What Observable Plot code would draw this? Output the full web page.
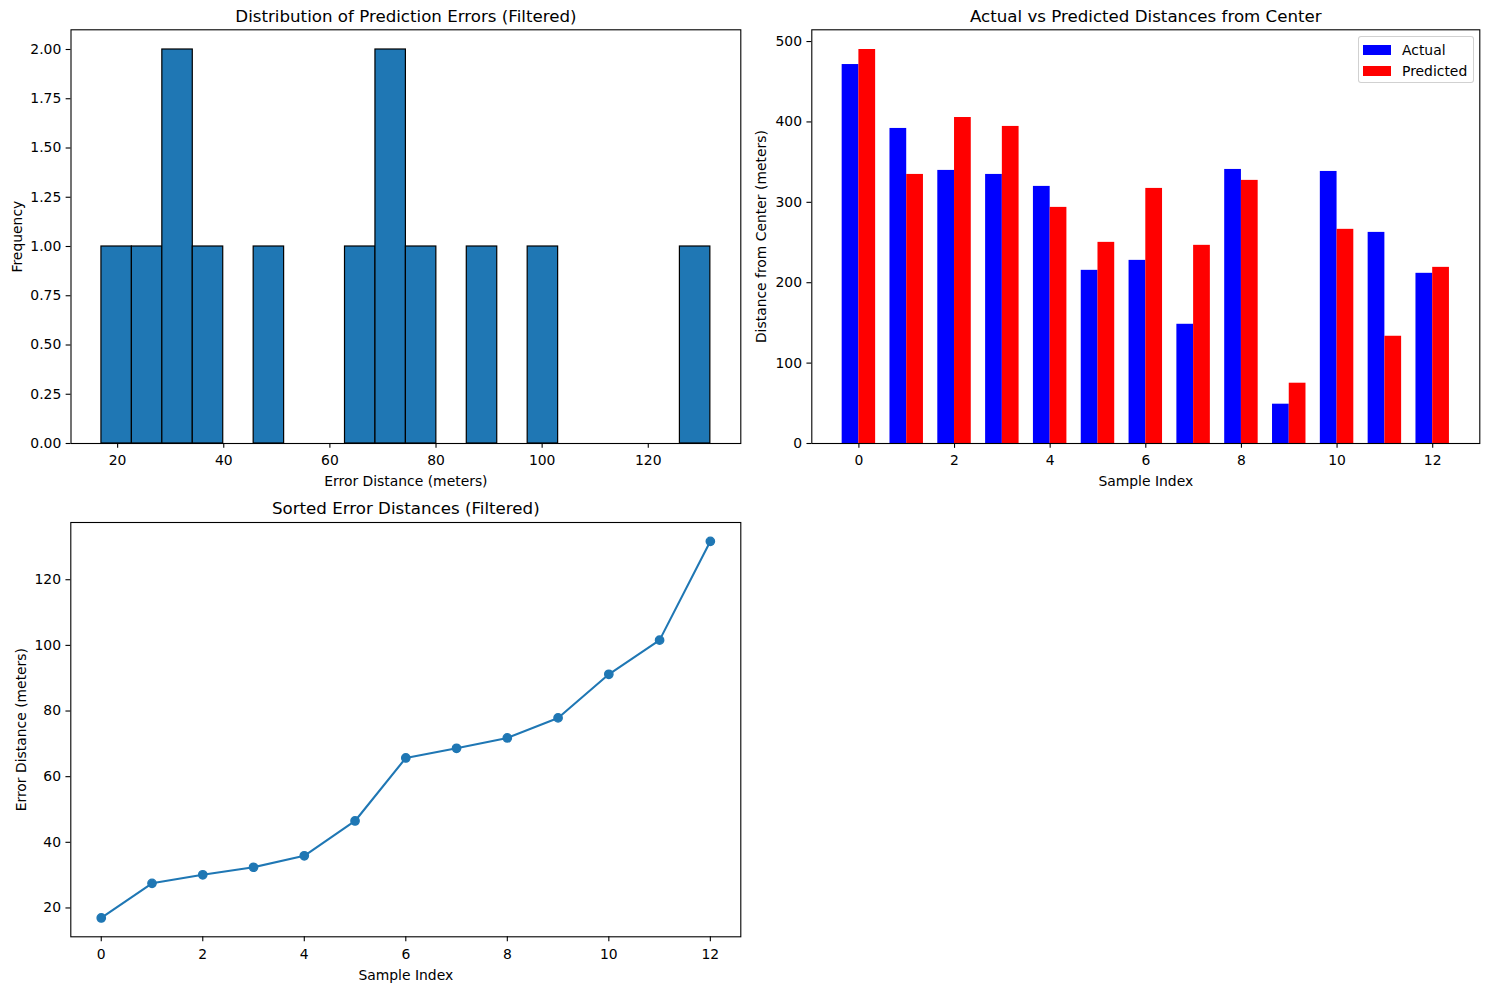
<!DOCTYPE html>
<html>
<head>
<meta charset="utf-8">
<script src="https://cdn.jsdelivr.net/npm/d3@7"></script>
<script src="https://cdn.jsdelivr.net/npm/@observablehq/plot@0.6"></script>
<style>
  body { margin: 0; background: #ffffff; }
  #fig { position: relative; width: 1489px; height: 989px; background: #ffffff; font-family: "DejaVu Sans", sans-serif; }
  #fig svg { position: absolute; }
  .legend { position: absolute; box-sizing: border-box; border: 1px solid rgba(204,204,204,0.9); border-radius: 3px; background: rgba(255,255,255,0.8); }
  .legend .row { position: absolute; left: 0; height: 14px; display: flex; align-items: center; font-size: 13.9px; color: #000; }
  .legend .sw { width: 28px; height: 10px; margin-left: 4px; margin-right: 11px; }
</style>
</head>
<body>
<div id="fig"></div>
<script>
// Error distances (meters), sorted ascending; also the sample for the histogram
const errorDistances = [16.95, 27.5, 30.1, 32.4, 35.9, 46.5, 65.7, 68.65, 71.8, 77.9, 91.2, 101.6, 131.7];

// Distances from center (meters) per sample
const actualDistances    = [471.4, 391.9, 339.7, 334.7, 319.8, 215.4, 227.8, 148.3, 340.9, 48.9, 338.4, 262.6, 211.7];
const predictedDistances = [490.1, 334.7, 405.5, 394.4, 293.7, 250.2, 317.3, 246.5, 327.3, 75.0, 266.4, 133.4, 219.1];

const seriesNames  = ["Actual", "Predicted"];
const seriesColors = ["blue", "red"];

// Tick values
const histXTicks     = [20, 40, 60, 80, 100, 120];
const histYTicks     = [0, 0.25, 0.5, 0.75, 1, 1.25, 1.5, 1.75, 2];
const sampleTicks    = [0, 2, 4, 6, 8, 10, 12];
const distanceTicks  = [0, 100, 200, 300, 400, 500];
const errorTicks     = [20, 40, 60, 80, 100, 120];

const binCount = 20;
const barWidth = 0.35;
const tabBlue = "#1f77b4";

const fig = document.getElementById("fig");
const FONT = "DejaVu Sans";
const TICK = 4.86;

// pad a [lo, hi] extent by 5% on both sides
const pad = ([lo, hi], f = 0.05) => [lo - (hi - lo) * f, hi + (hi - lo) * f];

function panel({left, top, width, height, mt, mr, mb, ml, x, y, xTicks, yTicks, yFormat, title, xLabel, yLabel, yLabelDx, marks}) {
  const svg = Plot.plot({
    width, height,
    marginTop: mt, marginRight: mr, marginBottom: mb, marginLeft: ml,
    x, y,
    color: {domain: seriesNames, range: seriesColors},
    style: {fontFamily: FONT, fontSize: "13.9px", background: "transparent", overflow: "visible", color: "#000"},
    marks: [
      ...marks,
      Plot.axisX({ticks: xTicks, tickSize: TICK, tickPadding: 7, label: null, fontSize: 13.9, strokeWidth: 1.1}),
      Plot.axisY({ticks: yTicks, tickSize: TICK, tickPadding: 4.9, label: null, fontSize: 13.9, strokeWidth: 1.1, tickFormat: yFormat}),
      Plot.frame({stroke: "#000", strokeWidth: 1.1}),
      Plot.text([title], {text: d => d, frameAnchor: "top", dy: -8.3, lineAnchor: "bottom", textAnchor: "middle", fontSize: 16.67, fill: "#000"}),
      Plot.text([xLabel], {text: d => d, frameAnchor: "bottom", dy: 33, lineAnchor: "top", textAnchor: "middle", fontSize: 13.9, fill: "#000"}),
      Plot.text([yLabel], {text: d => d, frameAnchor: "left", dx: yLabelDx, rotate: -90, textAnchor: "middle", lineAnchor: "middle", fontSize: 13.9, fill: "#000"})
    ]
  });
  svg.style.left = left + "px";
  svg.style.top = top + "px";
  fig.appendChild(svg);
  return svg;
}

// ---- Histogram of error distances (equal-width bins over the data range)
const errExtent = d3.extent(errorDistances);
const binStep = (errExtent[1] - errExtent[0]) / binCount;
const bins = d3.bin()
  .domain(errExtent)
  .thresholds(d3.range(1, binCount).map(i => errExtent[0] + i * binStep))(errorDistances)
  .filter(b => b.length > 0);
const maxCount = d3.max(bins, b => b.length);

panel({
  left: 0, top: 0, width: 750, height: 495,
  mt: 29.3, mr: 9.7, mb: 52, ml: 70.5,
  x: {domain: pad(errExtent)},
  y: {domain: [0, maxCount * 1.05]},
  xTicks: histXTicks, yTicks: histYTicks, yFormat: d3.format(".2f"),
  title: "Distribution of Prediction Errors (Filtered)",
  xLabel: "Error Distance (meters)",
  yLabel: "Frequency", yLabelDx: -53.5,
  marks: [
    Plot.rectY(bins, {x1: "x0", x2: "x1", y: b => b.length, fill: tabBlue, stroke: "#000", strokeWidth: 1.2})
  ]
});

// ---- Grouped bars: actual vs predicted distance from center
const barRows = actualDistances.flatMap((v, i) => [
  {index: i, series: seriesNames[0], value: v},
  {index: i, series: seriesNames[1], value: predictedDistances[i]}
]);
const nSamples = actualDistances.length;
const maxDist = d3.max(barRows, d => d.value);

panel({
  left: 750, top: 0, width: 739, height: 495,
  mt: 29.3, mr: 9.7, mb: 52, ml: 61.3,
  x: {domain: pad([-barWidth, nSamples - 1 + barWidth])},
  y: {domain: [0, maxDist * 1.05]},
  xTicks: sampleTicks, yTicks: distanceTicks, yFormat: d3.format("d"),
  title: "Actual vs Predicted Distances from Center",
  xLabel: "Sample Index",
  yLabel: "Distance from Center (meters)", yLabelDx: -50,
  marks: [
    Plot.rectY(barRows, {
      x1: d => d.series === seriesNames[0] ? d.index - barWidth : d.index,
      x2: d => d.series === seriesNames[0] ? d.index : d.index + barWidth,
      y: "value",
      fill: "series"
    })
  ]
});

// Legend for the grouped bars
const legend = document.createElement("div");
legend.className = "legend";
Object.assign(legend.style, {left: "1358px", top: "36px", width: "116px", height: "47px"});
seriesNames.forEach((name, i) => {
  const row = document.createElement("div");
  row.className = "row";
  row.style.top = (6 + i * 21) + "px";
  const sw = document.createElement("span");
  sw.className = "sw";
  sw.style.background = seriesColors[i];
  const label = document.createElement("span");
  label.textContent = name;
  row.appendChild(sw);
  row.appendChild(label);
  legend.appendChild(row);
});
fig.appendChild(legend);

// ---- Sorted error distances
const sortedRows = errorDistances.map((v, i) => ({index: i, value: v}));

panel({
  left: 0, top: 495, width: 750, height: 494,
  mt: 27, mr: 9.7, mb: 52.7, ml: 70.3,
  x: {domain: pad([0, errorDistances.length - 1])},
  y: {domain: pad(errExtent)},
  xTicks: sampleTicks, yTicks: errorTicks, yFormat: d3.format("d"),
  title: "Sorted Error Distances (Filtered)",
  xLabel: "Sample Index",
  yLabel: "Error Distance (meters)", yLabelDx: -49.3,
  marks: [
    Plot.line(sortedRows, {x: "index", y: "value", stroke: tabBlue, strokeWidth: 2.08}),
    Plot.dot(sortedRows, {x: "index", y: "value", r: 4.17, fill: tabBlue, stroke: tabBlue, strokeWidth: 1.39})
  ]
});
</script>
</body>
</html>
